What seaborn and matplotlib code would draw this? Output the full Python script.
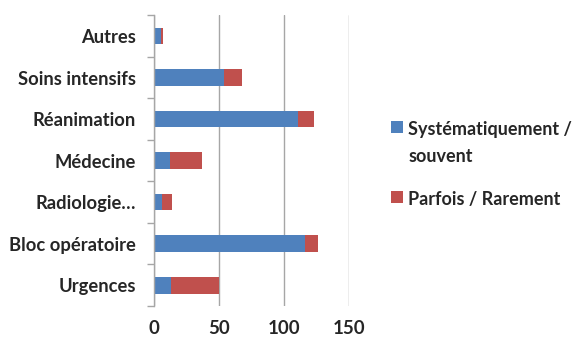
import matplotlib
matplotlib.use("Agg")
import matplotlib.pyplot as plt
import seaborn as sns
import pandas as pd
import numpy as np
from matplotlib.patches import Patch
from matplotlib.ticker import FixedLocator

services = ["Autres", "Soins intensifs", "Réanimation", "Médecine",
            "Radiologie…", "Bloc opératoire", "Urgences"]
systematique = [5, 54, 111, 12, 6, 116, 13]
parfois = [2, 14, 12, 25, 8, 10, 37]
x_ticks = [0, 50, 100, 150]

blue = "#4F81BD"
red = "#C0504D"
grid_grey = "#A6A6A6"

df = pd.DataFrame({
    "service": services,
    "systematique": systematique,
    "parfois": parfois,
})
df["total"] = df["systematique"] + df["parfois"]

sns.set_theme(style="white")
plt.rcParams["font.family"] = ["Lato", "DejaVu Sans"]

fig = plt.figure(figsize=(5.76, 3.4), dpi=100)
ax = fig.add_axes([0.2674, 0.1, 0.3385, 0.855])

# stacked horizontal bars: full total in red, the first part in blue over it
sns.barplot(data=df, y="service", x="total", color=red, order=services,
            width=0.4, saturation=1, linewidth=0, ax=ax, zorder=3)
sns.barplot(data=df, y="service", x="systematique", color=blue, order=services,
            width=0.4, saturation=1, linewidth=0, ax=ax, zorder=4)

ax.set_xlim(0, 150)
ax.set_ylim(len(services) - 0.5, -0.5)
ax.set_xticks(x_ticks)
ax.set_xticklabels([str(t) for t in x_ticks], fontsize=13.5, fontweight="bold")
ax.set_xlabel("")
ax.set_ylabel("")
ax.tick_params(axis="y", which="major", length=0, labelsize=13.2, pad=13)
for lbl in ax.get_yticklabels():
    lbl.set_fontweight("bold")
ax.yaxis.set_minor_locator(FixedLocator(np.arange(-0.5, len(services), 1.0)))
ax.tick_params(axis="y", which="minor", length=5, width=1, color=grid_grey,
               direction="out", left=True)
ax.tick_params(axis="x", length=0, pad=10)

ax.grid(axis="x", color=grid_grey, linewidth=1, zorder=0)
ax.grid(axis="y", visible=False)
for side in ["top", "right", "bottom"]:
    ax.spines[side].set_visible(False)
ax.spines["left"].set_color(grid_grey)
ax.spines["left"].set_linewidth(1)
ax.spines["left"].set_zorder(5)

handles = [Patch(facecolor=blue, edgecolor="none", label="Systématiquement /\nsouvent"),
           Patch(facecolor=red, edgecolor="none", label="Parfois / Rarement")]
leg = fig.legend(handles=handles, loc="upper left", bbox_to_anchor=(0.679, 0.645),
                 frameon=False, borderpad=0, borderaxespad=0,
                 handlelength=0.64, handleheight=0.64,
                 handletextpad=0.3, labelspacing=1.45,
                 prop={"size": 13, "weight": "bold"})
leg.get_texts()[0].set_linespacing(1.7)
# keep each square level with the first line of its label
for column in leg._legend_handle_box.get_children():
    for item in column.get_children():
        item.align = "top"

fig.savefig("out.png", dpi=100)
